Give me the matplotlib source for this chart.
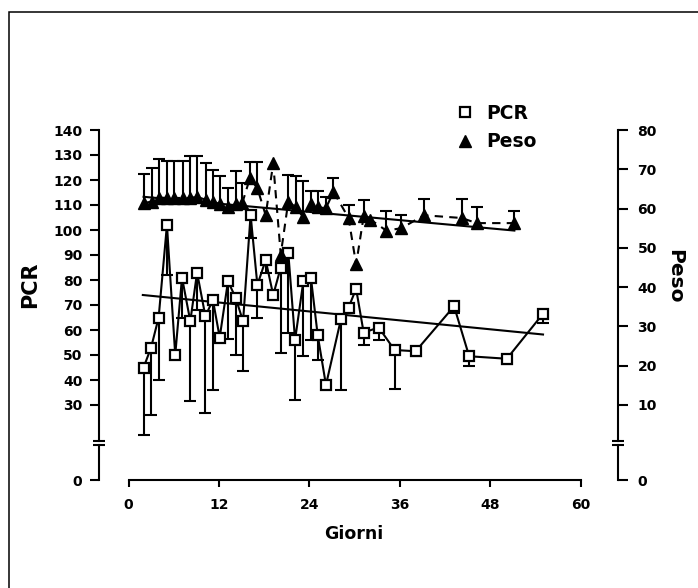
import matplotlib
matplotlib.use("Agg")
import matplotlib.pyplot as plt
from matplotlib.lines import Line2D
from matplotlib.patches import Rectangle
from matplotlib.transforms import ScaledTranslation

# PCR (left axis): day, value, lower error
pcr_days = [2.0, 3.0, 4.0, 5.1, 6.2, 7.1, 8.2, 9.1, 10.2, 11.2, 12.1, 13.2, 14.2, 15.2,
            16.2, 17.1, 18.2, 19.2, 20.2, 21.2, 22.1, 23.2, 24.2, 25.1, 26.2, 28.2, 29.2,
            30.2, 31.2, 33.2, 35.3, 38.1, 43.2, 45.2, 50.2, 55.0]
pcr_vals = [45, 53, 65, 102, 50, 81, 63.5, 83, 65.5, 72, 57, 79.5, 73, 63.5,
            106, 78, 88, 74, 85, 91, 56, 79.5, 81, 58, 38, 64.5, 69,
            76.5, 59, 61, 52, 51.5, 69.5, 49.5, 48.5, 66.5]
pcr_err = [27, 27, 25, 20, 0, 16, 32, 15, 38.5, 36, 0, 23, 23, 20,
           9, 13, 5, 0, 34, 32, 24, 30, 25, 10, 0, 28.5, 0,
           0, 5, 5, 15.5, 2, 2.5, 4, 2, 3.5]

# Peso (right axis): day, value, upper error
peso_days = [2.05, 3.1, 4.1, 5.1, 6.1, 7.2, 8.2, 9.1, 10.3, 11.2, 12.1, 13.2, 14.2, 15.1,
             16.1, 17.1, 18.2, 19.2, 20.2, 21.2, 22.2, 23.2, 24.2, 25.2, 26.2, 27.2,
             29.2, 30.2, 31.2, 32.1, 34.2, 36.2, 39.2, 44.2, 46.2, 51.2]
peso_vals = [61.4, 61.8, 62.8, 62.7, 62.7, 62.7, 62.7, 63.0, 62.2, 61.8, 61.1, 60.3, 61.1, 61.4,
             67.7, 65.2, 58.3, 71.5, 48.3, 61.8, 60.3, 57.8, 61.1, 60.3, 60.1, 64.3,
             57.6, 45.8, 58.0, 57.2, 54.4, 55.0, 58.3, 57.6, 56.3, 56.3]
peso_err = [7.3, 8.6, 9.8, 9.4, 9.4, 9.4, 10.8, 10.5, 9.3, 8.0, 7.3, 5.0, 8.5, 5.0,
            4.1, 6.6, 0, 0, 0, 6.8, 8.0, 9.2, 3.3, 4.1, 2.9, 3.4,
            3.4, 0, 4.2, 0, 4.9, 3.3, 4.2, 4.9, 4.0, 3.0]

# regression lines
pcr_fit_x = [1.9, 55.0]
pcr_fit_y = [74.0, 58.2]
peso_fit_x = [2.0, 51.2]
peso_fit_y = [63.0, 54.4]

left_ticks = [0, 30, 40, 50, 60, 70, 80, 90, 100, 110, 120, 130, 140]
right_ticks = [10, 20, 30, 40, 50, 60, 70, 80]
x_ticks = [0, 12, 24, 36, 48, 60]


def pcr_to_peso(v):
    return 10 + (v - 30) * 70.0 / 110.0


plt.rcParams["font.family"] = "DejaVu Sans"
plt.rcParams["font.weight"] = "bold"

W, H = 698, 588
fig = plt.figure(figsize=(W / 100, H / 100), dpi=100)
ax = fig.add_axes([128.5 / W, 1 - 480 / H, 452.2 / W, 350 / H])
ax2 = ax.twinx()

lw = 1.5

# PCR
ax.plot(pcr_fit_x, pcr_fit_y, color="black", lw=lw, zorder=2)
pdx = [d for d, e in zip(pcr_days, pcr_err) if e > 0]
pdy = [v for v, e in zip(pcr_vals, pcr_err) if e > 0]
pde = [e for e in pcr_err if e > 0]
ax.vlines(pdx, [y - e for y, e in zip(pdy, pde)], pdy, color="black", lw=lw, zorder=2)
ax.plot(pdx, [y - e for y, e in zip(pdy, pde)], ls="none", marker="_", ms=9, mew=lw,
        color="black", zorder=2)
ax.plot(pcr_days, pcr_vals, color="black", lw=lw, marker="s", ms=7, mfc="white",
        mec="black", mew=1.6, zorder=3)

# Peso
ax2.plot(peso_fit_x, peso_fit_y, color="black", lw=lw, zorder=2)
wdx = [d for d, e in zip(peso_days, peso_err) if e > 0]
wdy = [v for v, e in zip(peso_vals, peso_err) if e > 0]
wde = [e for e in peso_err if e > 0]
ax2.vlines(wdx, wdy, [y + e for y, e in zip(wdy, wde)], color="black", lw=lw, zorder=2)
ax2.plot(wdx, [y + e for y, e in zip(wdy, wde)], ls="none", marker="_", ms=9, mew=lw,
         color="black", zorder=2)
ax2.plot(peso_days, peso_vals, color="black", lw=lw, ls=(0, (4, 3)), marker="^", ms=8,
         mfc="black", mec="black", zorder=3)

# axes setup
ax.set_xlim(0, 60)
ax.set_ylim(0, 140)
ax2.set_ylim(pcr_to_peso(0), pcr_to_peso(140))

ax.set_xticks(x_ticks)
ax.set_yticks(left_ticks)
ax2.set_yticks([pcr_to_peso(0)] + right_ticks)
ax2.set_yticklabels(["0"] + [str(t) for t in right_ticks])

for s in ["top", "right"]:
    ax.spines[s].set_visible(False)
for s in ["top", "left", "bottom"]:
    ax2.spines[s].set_visible(False)

left_off = 21.2
right_off = 26.9
ax.spines["left"].set_position(("outward", left_off))
ax2.spines["right"].set_position(("outward", right_off))
ax.spines["left"].set_bounds(15.7, 140)
ax2.spines["right"].set_bounds(pcr_to_peso(15.7), 80)
ax.spines["bottom"].set_bounds(0, 60)
for sp in [ax.spines["left"], ax.spines["bottom"], ax2.spines["right"]]:
    sp.set_linewidth(lw)

ax.tick_params(axis="y", direction="out", length=6.5, width=lw, pad=5.5, labelsize=10)
ax.tick_params(axis="x", direction="out", length=5, width=lw, pad=8, labelsize=10)
ax2.tick_params(axis="y", direction="out", length=7, width=lw, pad=7, labelsize=10)

# broken y axes
for xa, off in [(0, -left_off), (1, right_off)]:
    tr = ax.get_yaxis_transform() + ScaledTranslation(off / 72, 0, fig.dpi_scale_trans)
    ax.plot([xa, xa], [0, 14], transform=tr, color="black", lw=lw, clip_on=False)
    ax.plot([xa, xa], [14, 15.7], transform=tr, ls="none", marker="_", ms=9, mew=lw,
            color="black", clip_on=False)

ax.set_ylabel("PCR", fontsize=15, fontweight="bold")
ax.yaxis.set_label_coords(-0.196, 0.557)
ax2.set_ylabel("Peso", fontsize=14.5, fontweight="bold", rotation=-90, va="center")
ax2.yaxis.set_label_coords(1.2085, 0.583)
ax.set_xlabel("Giorni", fontsize=12.5, fontweight="bold")
ax.xaxis.set_label_coords(0.499, -0.129)

handles = [
    Line2D([], [], ls="none", marker="s", ms=7, mfc="white", mec="black", mew=1.6),
    Line2D([], [], ls="none", marker="^", ms=8, mfc="black", mec="black"),
]
fig.legend(handles, ["PCR", "Peso"], loc="upper left", bbox_to_anchor=(439 / W, 1 - 87 / H),
           frameon=False, handlelength=1.0, handletextpad=0.6, labelspacing=0.5,
           prop={"size": 13.5, "weight": "bold"})

# outer frame of the figure
fig.patches.append(Rectangle((9 / W, -0.5), 2.0, 1.5 - 12 / H, transform=fig.transFigure,
                             fill=False, edgecolor="black", lw=1.1))

fig.savefig("out.png", dpi=100)
